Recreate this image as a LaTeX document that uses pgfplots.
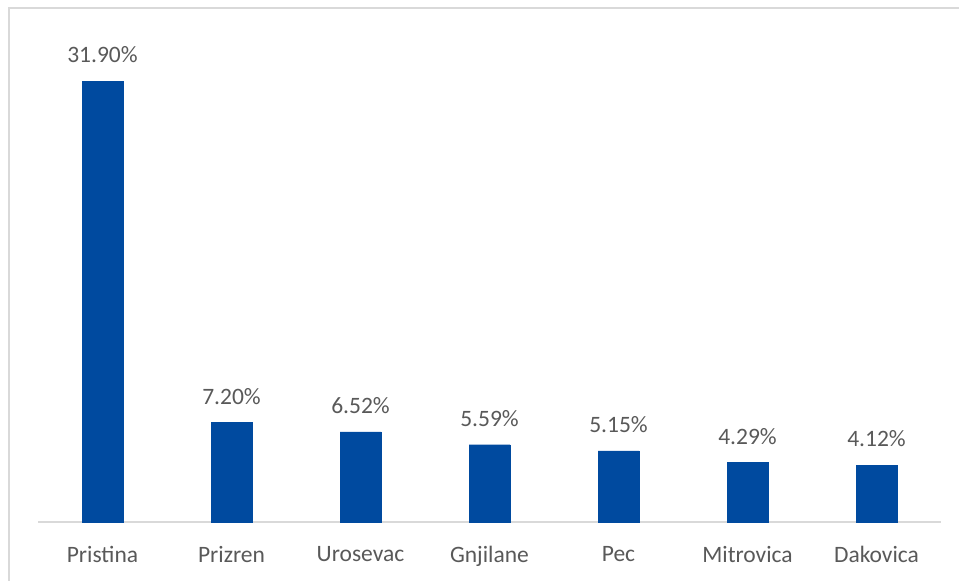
\documentclass[border=0pt]{standalone}
\usepackage{pgfplots}
\pgfplotsset{compat=1.18}
\usepackage{fontspec}
\setmainfont{Carlito}
\definecolor{barblue}{HTML}{004A9F}
\definecolor{txtgray}{HTML}{595959}
\definecolor{linegray}{HTML}{D9D9D9}
\begin{document}
\begin{tikzpicture}[x=1bp,y=1bp]
  \useasboundingbox (0,0) rectangle (959,581);
  \draw[linegray, line width=2bp] (9,-2) -- (9,573) -- (961,573);
  \begin{axis}[
      at={(38bp,59bp)}, anchor=south west,
      scale only axis,
      width=903bp, height=483.8bp,
      xmin=-0.5, xmax=6.5,
      ymin=0, ymax=35,
      axis x line*=bottom,
      axis y line=none,
      x axis line style={linegray, line width=1.5bp},
      xtick=data,
      major tick length=0pt,
      xticklabels={Pristina,Prizren,Urosevac,Gnjilane,Pec,Mitrovica,Dakovica},
      xticklabel style={anchor=north, inner sep=0pt, yshift=-24bp,
        text=txtgray, font=\fontsize{23.5bp}{28bp}\selectfont},
      ybar, bar width=41bp,
      nodes near coords={\pgfmathprintnumber[assume math mode=true,fixed,fixed zerofill,precision=2]{\pgfplotspointmeta}\%},
      every node near coord/.append style={anchor=south, inner sep=0pt,
        yshift=18bp, text=txtgray, font=\fontsize{23.5bp}{28bp}\selectfont},
      clip=false,
    ]
    \addplot[fill=barblue, draw=barblue] coordinates {
      (0,31.90) (1,7.20) (2,6.52) (3,5.59) (4,5.15) (5,4.29) (6,4.12)
    };
  \end{axis}
\end{tikzpicture}
\end{document}
